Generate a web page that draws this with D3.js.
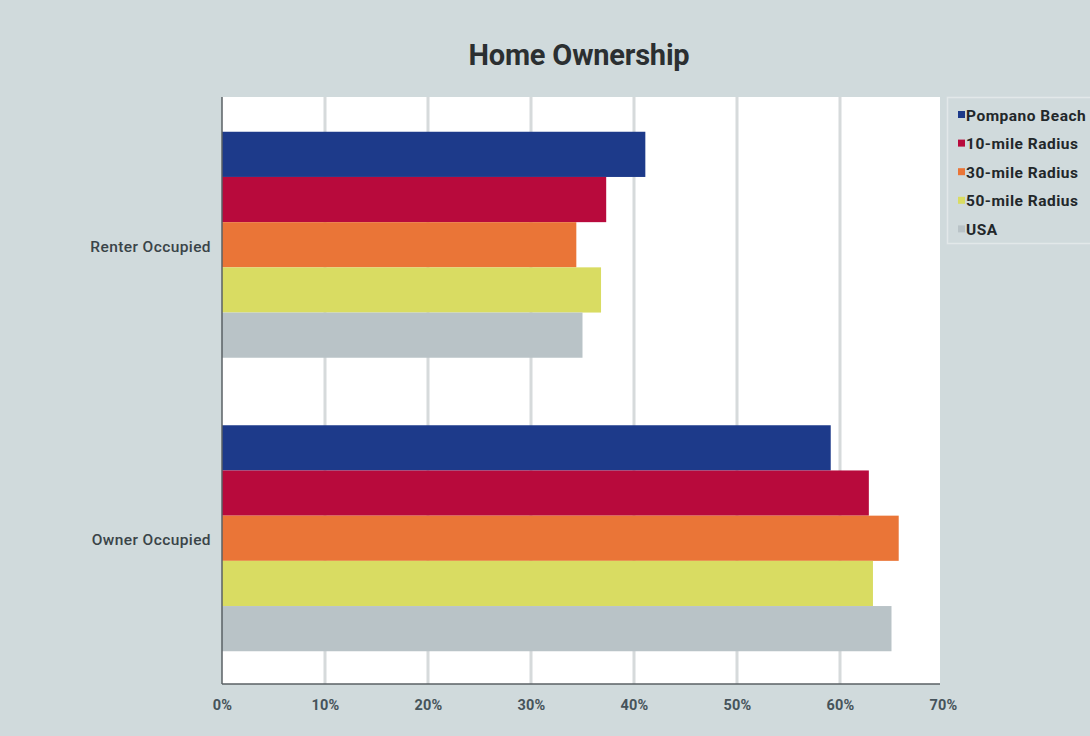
<!DOCTYPE html>
<html><head><meta charset="utf-8">
<script src="https://cdn.jsdelivr.net/npm/d3@7"></script>
<style>html,body{margin:0;padding:0;background:#d0dadc;}svg{display:block;}</style>
</head><body>
<script>
const categories = ["Renter Occupied", "Owner Occupied"];
const seriesNames = ["Pompano Beach", "10-mile Radius", "30-mile Radius", "50-mile Radius", "USA"];
const seriesColors = ["#1d3a8a", "#b80a3c", "#ea7537", "#d9dc62", "#b9c3c7"];
const renterValues = [41.1, 37.3, 34.4, 36.8, 35.0];
const ownerValues = [59.1, 62.8, 65.7, 63.2, 65.0];
const xTicks = [0, 10, 20, 30, 40, 50, 60, 70];
const title = "Home Ownership";

const W = 1090, H = 736;
const m = {left: 222, right: 940, top: 97, bottom: 684};
const svg = d3.select("body").append("svg").attr("width", W).attr("height", H);
svg.append("rect").attr("width", W).attr("height", H).attr("fill", "#d0dadc");

const font = "Roboto, 'Noto Sans', sans-serif";

svg.append("text").attr("x", 579).attr("y", 65).attr("text-anchor", "middle")
  .attr("font-family", font).attr("font-weight", 700).attr("font-size", 29)
  .attr("fill", "#2b2f31").attr("letter-spacing", "-0.2").text(title);

const x = d3.scaleLinear().domain([0, 70]).range([m.left, m.right + 3]);
const y0 = d3.scaleBand().domain(categories).range([m.top + 1, m.bottom + 1]).paddingInner(0.23).paddingOuter(0.115);
const y1 = d3.scaleBand().domain(seriesNames).range([0, y0.bandwidth()]);

svg.append("rect").attr("x", m.left).attr("y", m.top).attr("width", m.right - m.left).attr("height", m.bottom - m.top).attr("fill", "#ffffff");

// gridlines
svg.append("g").selectAll("line").data(xTicks.filter(t => t > 0 && t < 70)).join("line")
  .attr("x1", d => x(d)).attr("x2", d => x(d)).attr("y1", m.top).attr("y2", m.bottom)
  .attr("stroke", "#d6dadb").attr("stroke-width", 3);

const data = categories.map((c, i) => ({cat: c, vals: i === 0 ? renterValues : ownerValues}));
const g = svg.append("g");
data.forEach(d => {
  g.append("g").attr("transform", `translate(0,${y0(d.cat)})`)
    .selectAll("rect").data(d.vals).join("rect")
    .attr("x", x(0)).attr("y", (v, i) => y1(seriesNames[i]))
    .attr("width", v => x(v) - x(0)).attr("height", y1.bandwidth())
    .attr("fill", (v, i) => seriesColors[i]);
});

// axis lines
svg.append("line").attr("x1", m.left).attr("x2", m.left).attr("y1", m.top).attr("y2", m.bottom).attr("stroke", "#5a6064").attr("stroke-width", 1.5);
svg.append("line").attr("x1", m.left).attr("x2", m.right).attr("y1", m.bottom).attr("y2", m.bottom).attr("stroke", "#5a6064").attr("stroke-width", 1.5);

// x axis labels
const xAxis = d3.axisBottom(x).tickValues(xTicks).tickFormat(d => d + "%").tickSize(0).tickPadding(16);
const xg = svg.append("g").attr("transform", `translate(0,${m.bottom})`).call(xAxis);
xg.select(".domain").remove();
xg.selectAll("text").attr("font-family", font).attr("font-weight", 700).attr("font-size", 14.5)
  .attr("letter-spacing", "0.3").attr("fill", "#46535a");

// y axis labels
const yAxis = d3.axisLeft(y0).tickSize(0).tickPadding(11);
const yg = svg.append("g").attr("transform", `translate(${m.left},2)`).call(yAxis);
yg.select(".domain").remove();
yg.selectAll("text").attr("font-family", font).attr("font-weight", 500).attr("font-size", 15.5)
  .attr("letter-spacing", "0.4").attr("fill", "#3a4448");

// legend
const lg = svg.append("g");
lg.append("rect").attr("x", 947.5).attr("y", 97.5).attr("width", 150).attr("height", 146)
  .attr("fill", "none").attr("stroke", "#e2e8e9").attr("stroke-width", 1.5);
seriesNames.forEach((s, i) => {
  const yy = 115 + i * 28.6;
  lg.append("rect").attr("x", 958).attr("y", yy - 4).attr("width", 7).attr("height", 7).attr("fill", seriesColors[i]);
  lg.append("text").attr("x", 966).attr("y", yy + 5.5).attr("font-family", font).attr("font-weight", 700)
    .attr("font-size", 15.5).attr("letter-spacing", "0.5").attr("fill", "#22272a").text(s);
});
</script>
</body></html>
